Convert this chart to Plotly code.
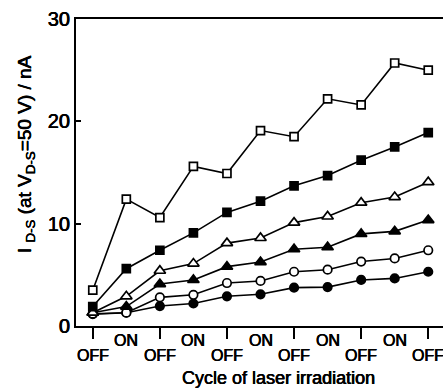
import plotly.graph_objects as go

cycle_index = list(range(11))
cycle_labels = ["OFF", "ON", "OFF", "ON", "OFF", "ON", "OFF", "ON", "OFF", "ON", "OFF"]

open_square = [3.5, 12.4, 10.6, 15.6, 14.9, 19.1, 18.5, 22.2, 21.6, 25.7, 25.0]
filled_square = [1.9, 5.6, 7.4, 9.1, 11.1, 12.2, 13.7, 14.7, 16.2, 17.5, 18.9]
open_triangle = [1.3, 2.9, 5.4, 6.1, 8.1, 8.6, 10.1, 10.7, 12.05, 12.6, 14.05]
filled_triangle = [1.3, 1.9, 4.1, 4.5, 5.8, 6.25, 7.5, 7.7, 9.0, 9.25, 10.35]
open_circle = [1.2, 1.3, 2.8, 3.05, 4.2, 4.4, 5.3, 5.5, 6.3, 6.6, 7.4]
filled_circle = [1.15, 1.3, 1.95, 2.2, 2.9, 3.1, 3.75, 3.8, 4.5, 4.65, 5.3]

series = [
    (filled_circle, "circle", "black", 8.5),
    (open_circle, "circle", "white", 8.5),
    (filled_triangle, "triangle-up", "black", 10),
    (open_triangle, "triangle-up", "white", 10),
    (filled_square, "square", "black", 8),
    (open_square, "square", "white", 8),
]

FONT = "Liberation Sans, Arial, sans-serif"
SHADOW = "0.35px 0px 0px black, -0.35px 0px 0px black"

fig = go.Figure()
for vals, sym, fill, size in series:
    fig.add_trace(go.Scatter(
        x=cycle_index, y=vals, mode="lines+markers",
        line=dict(color="black", width=1.6),
        marker=dict(symbol=sym, size=size, color=fill,
                    line=dict(color="black", width=1.7)),
        showlegend=False, cliponaxis=False,
    ))

annotations = []
for i, lab in zip(cycle_index, cycle_labels):
    annotations.append(dict(
        x=i, y=0, xref="x", yref="paper", text=lab, showarrow=False,
        yanchor="middle", xanchor="center",
        yshift=-14.5 if lab == "ON" else -29.5,
        font=dict(family=FONT, size=16, color="black", shadow=SHADOW),
    ))
annotations.append(dict(
    x=0.5, y=0, xref="paper", yref="paper",
    text="Cycle of laser irradiation", showarrow=False,
    xanchor="center", yanchor="middle", yshift=-52,
    xshift=278 - (76 + 443) / 2,
    font=dict(family=FONT, size=18, color="black", shadow=SHADOW),
))
annotations.append(dict(
    x=0, y=0.56, xref="paper", yref="paper",
    text="I <sub>D-S</sub> (at V<sub>D-S</sub>=50 V) / nA", showarrow=False,
    textangle=-90, xanchor="center", yanchor="middle", xshift=-50,
    font=dict(family=FONT, size=19, color="black", shadow=SHADOW),
))

fig.update_layout(
    width=443, height=389,
    margin=dict(l=76, r=0, t=19, b=63),
    paper_bgcolor="white", plot_bgcolor="white",
    annotations=annotations,
    xaxis=dict(
        range=[-0.5, 10.44], showgrid=False, zeroline=False,
        showline=True, linecolor="black", linewidth=2, mirror=True,
        tickvals=[0, 2, 4, 6, 8, 10], showticklabels=False,
        ticks="outside", ticklen=11, tickwidth=2, tickcolor="black",
    ),
    yaxis=dict(
        range=[0, 30], showgrid=False, zeroline=False,
        showline=True, linecolor="black", linewidth=2,
        tickvals=[0, 10, 20, 30], ticks="inside", ticklen=5, tickwidth=2,
        tickcolor="black",
        tickfont=dict(family=FONT, size=20, color="black", shadow=SHADOW),
    ),
)

fig.write_html("out.html")
